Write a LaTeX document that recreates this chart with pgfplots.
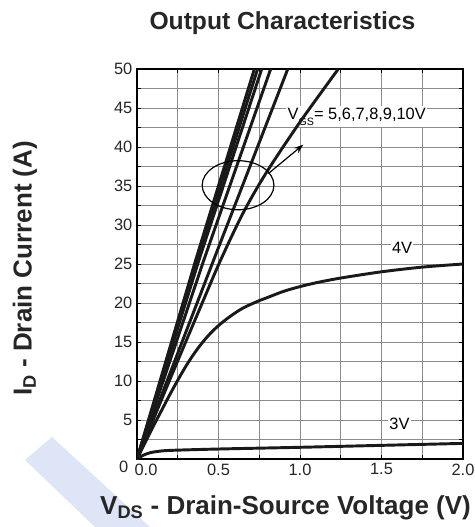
\documentclass[border=0pt]{standalone}
\usepackage{pgfplots}
\pgfplotsset{compat=1.18}
\usepackage{fontspec}
\setmainfont{Liberation Sans}
\usetikzlibrary{arrows.meta}
\definecolor{wm}{RGB}{222,229,246}
\begin{document}
\begin{tikzpicture}
\useasboundingbox (-102.75pt,-51pt) rectangle (252.75pt,344.25pt);
\fill[wm] (-63.75pt,16.5pt) -- (9.75pt,-51pt) -- (-31.5pt,-51pt) -- (-84pt,-0.75pt) -- cycle;
\begin{axis}[
  at={(0pt,0pt)}, anchor=south west,
  scale only axis, width=244.5pt, height=292.5pt,
  xmin=0, xmax=2, ymin=0, ymax=50,
  xtick={0.5,1,1.5,2}, minor xtick={0.25,0.75,1.25,1.75},
  ytick={5,10,15,20,25,30,35,40,45,50},
  minor ytick={2.5,7.5,12.5,17.5,22.5,27.5,32.5,37.5,42.5,47.5},
  extra x ticks={0}, extra x tick labels={0.0},
  extra x tick style={grid=none, major tick length=0pt, xticklabel style={xshift=6.75pt}},
  extra y ticks={0}, extra y tick labels={0},
  extra y tick style={grid=none, major tick length=0pt, yticklabel style={yshift=-6pt, xshift=-3pt}},
  grid=both,
  major grid style={draw=black!45, line width=0.6pt},
  minor grid style={draw=black!45, line width=0.6pt},
  tick align=inside, major tick length=3pt, minor tick length=3pt,
  tick style={black, line width=0.5pt},
  axis line style={black, line width=0.9pt},
  /pgf/number format/assume math mode=true,
  tick label style={font=\fontsize{12.3}{14}\selectfont, text=black!85},
  x tick label style={/pgf/number format/fixed, /pgf/number format/fixed zerofill, /pgf/number format/precision=1},
  y tick label style={/pgf/number format/fixed},
  cycle list={{black!90, line width=2.2pt, solid, mark=none}},
]
% labels with white background
\node[fill=white, inner sep=1pt, font=\fontsize{12.3}{14}\selectfont] at (axis cs:1.626,27.05) {4V};
\node[fill=white, inner sep=1pt, font=\fontsize{12.3}{14}\selectfont] at (axis cs:1.61,4.5) {3V};
\node[fill=white, inner sep=1pt, anchor=west, font=\fontsize{12.3}{14}\selectfont] at (axis cs:0.915,43.9) {V\raisebox{-0.75ex}{\fontsize{8}{9}\selectfont GS}= 5,6,7,8,9,10V};
% 10V
\addplot[black!90, line width=2.2pt] coordinates {(0,0) (0.36,25.5) (0.72,50)};
% 9V
\addplot[black!90, line width=2.2pt] coordinates {(0,0) (0.37,25.5) (0.74,50)};
% 8V
\addplot[black!90, line width=2.2pt] coordinates {(0,0) (0.38,25.5) (0.765,50)};
% 7V
\addplot[black!90, line width=2.2pt] coordinates {(0,0) (0.41,25.5) (0.82,50)};
% 6V
\addplot[black!90, line width=2.2pt] coordinates {(0,0) (0.47,25.5) (0.925,50)};
% 5V
\addplot[black!90, line width=2.2pt, smooth] coordinates {(0,0) (0.2,10.1) (0.4,20.0) (0.513,25.5) (0.65,31.5) (0.79,36.6) (1.0,43.2) (1.235,50)};
% 4V
\addplot[black!90, line width=2.2pt, smooth] coordinates {(0,0) (0.05,2.1) (0.1,4.2) (0.15,6.2) (0.2,8.2) (0.25,10.1) (0.3,11.9) (0.35,13.5) (0.4,14.9) (0.45,16.1) (0.5,17.1) (0.55,17.95) (0.6,18.7) (0.65,19.35) (0.7,19.85) (0.75,20.3) (0.8,20.7) (0.9,21.5) (1.0,22.1) (1.1,22.6) (1.25,23.2) (1.5,24.0) (1.75,24.6) (2.0,25.0)};
% 3V
\addplot[black!90, line width=2.2pt, smooth] coordinates {(0,0) (0.04,0.5) (0.08,0.8) (0.12,0.95) (0.2,1.1) (0.5,1.28) (1.0,1.5) (1.5,1.75) (2.0,2.0)};
% annotation
\draw[black, line width=0.9pt] (axis cs:0.62,35.1) ellipse [x radius=26.9pt, y radius=18.4pt];
\draw[black, line width=0.9pt, -{Stealth[length=7pt,width=5pt]}] (axis cs:0.806,36.6) -- (axis cs:1.02,40.3);
\end{axis}
\node[font=\bfseries\fontsize{18.5}{20}\selectfont, text=black!85] at (109.1pt,327pt) {Output Characteristics};
\node[font=\bfseries\fontsize{19.5}{22}\selectfont, text=black!85] at (111.4pt,-36.75pt) {V\textsubscript{DS} - Drain-Source Voltage (V)};
\node[font=\bfseries\fontsize{19.5}{22}\selectfont, text=black!85, rotate=90] at (-84pt,142.9pt) {I\textsubscript{D} - Drain Current (A)};
\end{tikzpicture}
\end{document}
